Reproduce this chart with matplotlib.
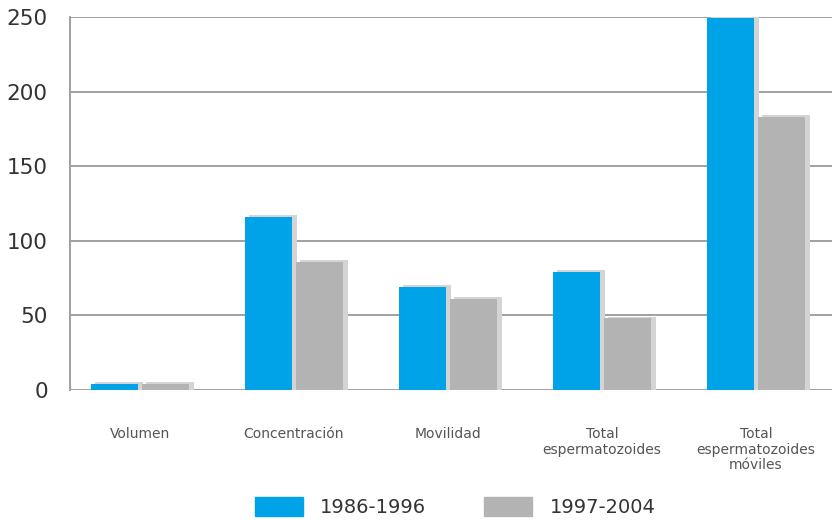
import matplotlib.pyplot as plt
import numpy as np
from matplotlib.patches import Patch

categories = ['Volumen', 'Concentración', 'Movilidad',
              'Total\nespermatozoides', 'Total\nespermatozoides\nmóviles']
series_names = ['1986-1996', '1997-2004']
vals_1986 = [4, 116, 69, 79, 249]
vals_1997 = [4, 86, 61, 48, 183]
yticks = [0, 50, 100, 150, 200, 250]

blue = '#00a3e8'
grey = '#b3b3b3'
shadow = '#d4d4d4'

plt.rcParams['font.family'] = ['DejaVu Sans']

fig = plt.figure(figsize=(8.32, 5.2), dpi=100)
ax = fig.add_axes([70 / 832, 1 - 390 / 520, 1 - 70 / 832, (390 - 17) / 520])

x = np.arange(len(categories))
w = 0.31
off_b = -0.165
off_g = 0.165

# grid lines behind everything
for t in yticks:
    ax.axhline(t, color='#a0a0a0', lw=1.4, zorder=0)

# soft shadows
ax.bar(x + off_b + 0.03, np.array(vals_1986) + 1.2, w, color=shadow, zorder=1)
ax.bar(x + off_g + 0.03, np.array(vals_1997) + 1.2, w, color=shadow, zorder=1)

ax.bar(x + off_b, vals_1986, w, color=blue, zorder=2)
ax.bar(x + off_g, vals_1997, w, color=grey, zorder=2)

ax.set_xlim(-70 / 154, (832 - 140) / 154)
ax.set_ylim(0, 250)
ax.set_yticks(yticks)
ax.set_yticklabels([str(t) for t in yticks], fontsize=15.5, color='#333333')
ax.set_xticks(x)
ax.set_xticklabels(categories, fontsize=10, color='#555555', linespacing=1.1)
ax.tick_params(axis='both', length=0)
ax.tick_params(axis='x', pad=27)
ax.tick_params(axis='y', pad=16)

for s in ['top', 'right', 'bottom']:
    ax.spines[s].set_visible(False)
ax.spines['left'].set_color('#a0a0a0')
ax.spines['left'].set_linewidth(1.4)

handles = [Patch(color=blue), Patch(color=grey)]
fig.legend(handles, series_names, loc='center', bbox_to_anchor=(455 / 832, 1 - 507 / 520),
           ncol=2, frameon=False, fontsize=14, handlelength=2.47, handleheight=1.08,
           handletextpad=0.88, columnspacing=3.0, labelcolor='#333333')

fig.savefig('out.png', dpi=100)
